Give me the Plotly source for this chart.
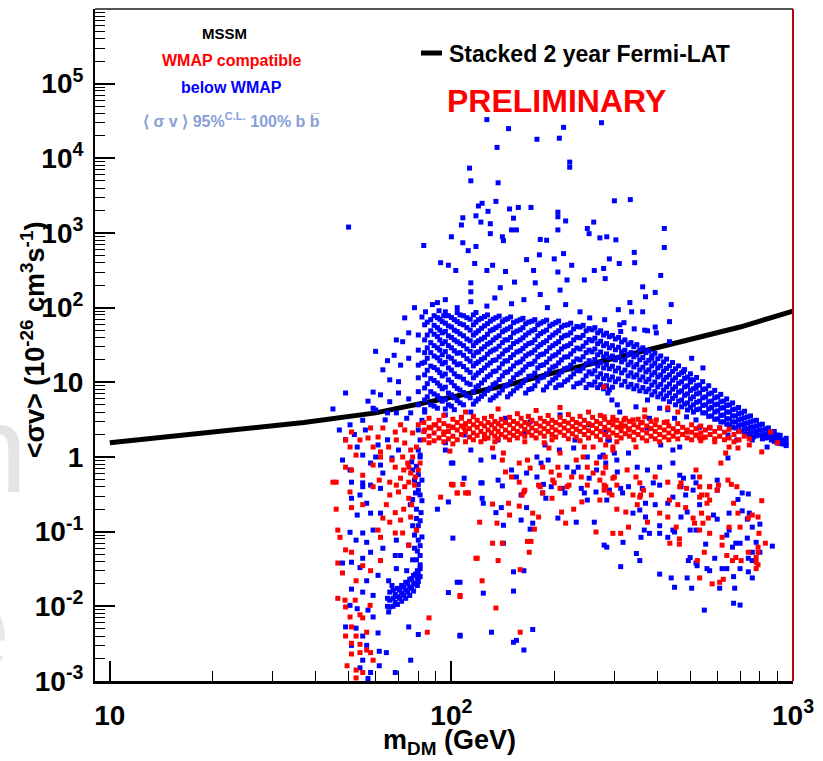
import plotly.graph_objects as go

# ---------------- data ----------------
fermi_m = [10, 37, 60, 81, 100, 150, 200, 300, 400, 500, 700, 1000]
fermi_sv = [1.55, 2.9, 3.9, 5.1, 6.3, 9.5, 13.5, 21, 29, 37, 55, 90]

blue_upper = [
    (127, 33000), (147, 25000), (213, 26000), (207, 18600), (275, 30000), (178, 18000), (136, 14000),
    (222, 8900), (222, 7600), (113, 7400), (114, 5000), (137, 4700), (300, 2700), (334, 2800),
    (123, 2500), (120, 2300), (135, 2650), (148, 2100), (157, 2200), (171, 2200), (108, 1600),
    (118, 1700), (128, 1950), (205, 1900), (205, 1650), (152, 1580), (216, 1450), (122, 1400),
    (130, 1330), (107, 1280), (150, 1100), (155, 1100), (205, 1100), (250, 1150), (261, 1400),
    (253, 980), (420, 1150), (100, 890), (130, 980), (141, 890), (142, 790), (285, 890), (303, 810),
    (272, 860), (182, 820), (190, 800), (83, 680), (108, 740), (118, 660), (112, 580), (420, 640),
    (213, 530), (181, 510), (343, 550), (93, 400), (98, 370), (117, 390), (132, 370), (166, 440),
    (200, 450), (225, 370), (290, 450), (310, 390), (344, 400), (103, 315), (127, 315), (144, 305),
    (174, 315), (205, 300), (262, 315), (279, 335), (410, 270), (114, 215), (153, 220), (176, 215),
    (218, 235), (245, 235), (282, 245), (363, 190), (395, 160), (370, 140), (440, 110), (333, 117),
    (308, 94), (337, 88), (363, 88), (435, 65), (313, 48), (343, 52), (375, 49), (398, 46),
    (50, 1200),
    (88, 110), (96, 128), (104, 100), (114, 120), (127, 105), (134, 135), (150, 113), (163, 128),
    (191, 100), (216, 110), (238, 88), (254, 73), (281, 69), (311, 59), (114, 163), (139, 185),
    (182, 150), (208, 172), (320, 63), (368, 50), (395, 55), (435, 35), (386, 21), (505, 21),
    (545, 15.6), (478, 14), (500, 10.8), (520, 8.4),
    (78, 100), (82, 75), (92, 91), (95, 78), (75, 46), (69, 37), (72, 35), (60, 26), (65, 19.5),
    (63, 14.7), (70, 10.2), (82, 18), (75, 21), (84, 88), (91, 117), (73, 73), (68, 23), (71, 17),
    (66, 10.8),
]

blue_band = [
    (80, 43), (80, 27), (80, 17), (80, 11.5), (80, 7.5), (80, 5),
    (83.5, 59), (83.5, 37), (83.5, 25), (83.5, 18.6), (83.5, 12.6), (83.5, 8.4), (83.5, 5.8), (83.5, 4.0),
    (87, 69), (87, 49), (87, 34), (87, 25), (87, 16.5), (87, 11.2), (87, 7.5), (87, 5.0),
    (91, 73.5), (91, 54), (91, 41), (91, 29), (91, 21.3), (91, 14.7), (91, 9.8), (91, 6.6), (91, 4.5),
    (94, 65), (94, 46), (94, 33), (94, 23.4), (94, 17.7), (94, 12.2), (94, 8.2), (94, 5.6),
    (98, 78), (98, 57), (98, 42), (98, 31), (98, 22), (98, 15.6), (98, 10.8), (98, 7.2), (98, 5.0),
    (102, 69), (102, 50), (102, 37), (102, 26.5), (102, 18.8), (102, 13), (102, 9), (102, 6.2), (102, 4.3),
    (106, 80), (106, 61), (106, 44.5), (106, 33), (106, 25), (106, 17.7), (106, 11.8), (106, 7.9), (106, 5.3),
    (111, 73.5), (111, 54), (111, 38), (111, 28), (111, 20.7), (111, 14.7), (111, 9.8), (111, 6.6),
    (116, 80), (116, 59), (116, 43), (116, 31), (116, 22.7), (116, 16.6), (116, 11.5), (116, 7.5), (116, 5.1),
    (120, 69), (120, 49), (120, 36), (120, 25.6), (120, 18.8), (120, 13.4), (120, 9), (120, 6),
    (125, 76), (125, 57), (125, 40), (125, 30), (125, 21.3), (125, 15.6), (125, 10.8), (125, 7),
    (130, 66), (130, 49), (130, 34), (130, 25.6), (130, 18.2), (130, 12.6), (130, 8.4), (130, 5.8),
    (135, 73.5), (135, 54), (135, 39.5), (135, 28), (135, 20), (135, 14.2), (135, 9.8), (135, 6.6),
    (141, 65), (141, 47.5), (141, 34), (141, 24), (141, 17.7), (141, 12.2), (141, 7.9),
    (146, 71), (146, 52), (146, 37), (146, 27.3), (146, 19.4), (146, 13.8), (146, 9.2), (146, 6.4),
    (152, 63), (152, 46), (152, 33), (152, 23.4), (152, 16.6), (152, 11.5), (152, 7.7),
    (159, 69), (159, 50.6), (159, 37), (159, 26.5), (159, 18.8), (159, 13.4), (159, 9),
    (165, 61), (165, 43), (165, 31), (165, 22.7), (165, 16.1), (165, 10.8), (165, 7.2),
    (172, 66), (172, 49), (172, 34), (172, 25), (172, 17.7), (172, 12.2), (172, 8.2),
    (179, 59), (179, 42), (179, 30), (179, 22), (179, 15.6), (179, 10.4),
    (186, 65), (186, 47.5), (186, 34), (186, 24), (186, 17.2), (186, 11.8), (186, 7.9),
    (194, 57), (194, 40), (194, 29), (194, 20.7), (194, 14.7), (194, 9.8),
    (202, 63), (202, 46), (202, 33), (202, 23.4), (202, 16.6), (202, 11.5), (202, 8.5),
    (210, 55), (210, 39.5), (210, 28), (210, 20), (210, 13.8), (210, 9.2),
    (219, 59), (219, 43), (219, 31), (219, 22), (219, 15.6), (219, 10.8),
    (228, 52), (228, 37), (228, 26.5), (228, 18.8), (228, 13), (228, 8.7),
    (238, 55), (238, 39.5), (238, 28), (238, 20), (238, 14.2), (238, 9.8),
    (248, 49), (248, 34), (248, 25), (248, 17.7), (248, 12.2), (248, 8.5),
    (258, 50.6), (258, 36), (258, 25.6), (258, 18.2), (258, 13), (258, 9.2),
    (268, 46), (268, 33), (268, 23.4), (268, 16.6), (268, 11.8), (268, 8.5),
    (279, 43), (279, 31), (279, 22), (279, 15.6), (279, 11.2), (279, 8.2),
    (290, 40.8), (290, 29), (290, 21.3), (290, 15.2), (290, 10.8), (290, 7.9),
    (302, 38), (302, 27.3), (302, 20), (302, 14.2), (302, 10.2),
    (315, 34.7), (315, 25.6), (315, 18.8), (315, 13.4), (315, 9.2),
    (329, 32), (329, 23.4), (329, 17.2), (329, 12.2), (329, 8.7),
    (342, 30), (342, 22), (342, 16.1), (342, 11.8), (342, 8.2),
    (356, 27.3), (356, 20), (356, 14.7), (356, 10.8), (356, 7.7),
    (371, 25), (371, 18.2), (371, 13.8), (371, 10.2), (371, 7.5),
    (386, 22.7), (386, 16.6), (386, 12.6), (386, 9.2), (386, 6.8),
    (402, 20.7), (402, 15.6), (402, 11.8), (402, 8.7), (402, 6.4),
    (418, 18.8), (418, 14.2), (418, 10.8), (418, 7.9), (418, 6.0),
    (435, 16.6), (435, 12.6), (435, 9.5), (435, 7.2), (435, 5.5),
    (453, 15.2), (453, 11.5), (453, 8.7), (453, 6.6), (453, 5.0),
    (472, 13.4), (472, 10.2), (472, 7.7), (472, 5.8), (472, 4.7),
    (491, 11.8), (491, 9.0), (491, 7.0), (491, 5.3), (491, 4.27),
    (511, 10.8), (511, 8.2), (511, 6.4), (511, 5.0), (511, 4.0),
    (533, 9.2), (533, 7.2), (533, 5.6), (533, 4.4),
    (555, 8.2), (555, 6.4), (555, 5.0), (555, 3.9),
    (578, 7.2), (578, 5.6), (578, 4.6), (578, 3.55),
    (602, 6.4), (602, 5.1), (602, 4.15), (602, 3.24),
    (627, 5.6), (627, 4.6), (627, 3.66), (627, 2.95),
    (652, 5.0), (652, 4.0), (652, 3.24), (652, 2.7),
    (679, 4.4), (679, 3.55), (679, 2.95), (679, 2.45),
    (707, 3.9), (707, 3.24), (707, 2.7), (707, 2.24),
    (736, 3.45), (736, 2.86), (736, 2.38), (736, 2.03),
    (766, 3.04), (766, 2.53), (766, 2.16), (766, 1.85),
    (797, 2.7), (797, 2.3), (797, 1.97),
    (830, 2.38), (830, 2.03), (830, 1.8),
    (864, 2.16), (864, 1.91), (864, 1.69),
    (899, 1.97), (899, 1.74), (899, 1.54),
    (936, 1.69), (936, 1.49),
]

blue_band_fill = [
    (85, 64), (85, 43), (85, 29), (85, 21), (85, 14.5), (85, 9.6), (85, 6.4),
    (89, 78), (89, 58), (89, 44), (89, 31), (89, 22.5), (89, 15.8), (89, 10.6), (89, 7.0), (89, 4.8),
    (92.5, 70), (92.5, 50), (92.5, 37), (92.5, 27), (92.5, 19.5), (92.5, 13.5), (92.5, 9.0), (92.5, 6.1),
    (96, 88), (96, 62), (96, 48), (96, 35), (96, 25.8), (96, 18.5), (96, 12.9), (96, 8.6), (96, 5.9), (96, 4.4),
    (100, 74), (100, 55), (100, 40), (100, 29), (100, 21), (100, 14.6), (100, 10.0), (100, 6.8), (100, 4.8),
    (104, 86), (104, 65), (104, 48), (104, 35), (104, 24.5), (104, 17.2), (104, 12.0), (104, 8.3), (104, 5.7),
    (108.5, 78), (108.5, 59), (108.5, 42), (108.5, 31), (108.5, 23), (108.5, 16.3), (108.5, 11.0), (108.5, 7.3), (108.5, 5.0),
    (113.5, 70), (113.5, 50), (113.5, 36), (113.5, 26), (113.5, 19.2), (113.5, 13.6), (113.5, 9.4), (113.5, 6.2),
    (118, 86), (118, 64), (118, 46), (118, 34), (118, 25), (118, 17.9), (118, 12.5), (118, 8.6), (118, 5.6),
    (122.5, 72), (122.5, 53), (122.5, 38), (122.5, 28), (122.5, 20.3), (122.5, 14.4), (122.5, 9.8), (122.5, 6.5),
    (127.5, 80), (127.5, 61), (127.5, 44), (127.5, 32.5), (127.5, 23.8), (127.5, 17), (127.5, 11.9), (127.5, 7.8),
    (132.5, 70), (132.5, 51), (132.5, 37), (132.5, 27), (132.5, 19.6), (132.5, 13.9), (132.5, 9.3), (132.5, 6.2),
    (138, 77), (138, 57), (138, 42), (138, 30.5), (138, 22), (138, 15.6), (138, 10.9), (138, 7.2),
    (143.5, 69), (143.5, 50), (143.5, 37), (143.5, 26.5), (143.5, 19.3), (143.5, 13.5), (143.5, 8.9),
    (149, 75), (149, 55), (149, 40), (149, 29.5), (149, 21.5), (149, 15), (149, 10.2), (149, 7.0),
    (155.5, 66), (155.5, 48.5), (155.5, 35), (155.5, 25.5), (155.5, 18.2), (155.5, 12.7), (155.5, 8.4),
    (162, 72), (162, 54), (162, 39.5), (162, 28.5), (162, 20.5), (162, 14.6), (162, 9.9),
    (168.5, 64), (168.5, 46), (168.5, 33), (168.5, 24), (168.5, 17.4), (168.5, 12), (168.5, 8.0),
    (175.5, 69), (175.5, 51), (175.5, 37), (175.5, 27), (175.5, 19.2), (175.5, 13.3), (175.5, 9.0),
    (182.5, 62), (182.5, 45), (182.5, 32), (182.5, 23.5), (182.5, 16.8), (182.5, 11.5),
    (190, 68), (190, 50), (190, 36), (190, 26), (190, 18.6), (190, 13), (190, 8.7),
    (198, 60), (198, 43), (198, 31), (198, 22.5), (198, 16), (198, 10.8),
    (206, 66), (206, 49), (206, 35), (206, 25.3), (206, 18.2), (206, 12.6), (206, 9.2),
    (214.5, 58), (214.5, 42), (214.5, 30), (214.5, 21.8), (214.5, 15.2), (214.5, 10.2),
    (223.5, 62), (223.5, 46), (223.5, 33), (223.5, 24), (223.5, 17), (223.5, 11.8),
    (233, 56), (233, 40), (233, 28.8), (233, 20.6), (233, 14.4), (233, 9.6),
    (243, 58), (243, 42.5), (243, 30.5), (243, 22), (243, 15.5), (243, 10.7),
    (253, 52.5), (253, 37.5), (253, 27), (253, 19.5), (253, 13.8), (253, 9.4),
    (263, 54), (263, 39), (263, 28), (263, 20.2), (263, 14.3), (263, 10.1),
    (273.5, 49), (273.5, 35.5), (273.5, 25.5), (273.5, 18.3), (273.5, 13.0), (273.5, 9.3),
    (284.5, 45.5), (284.5, 33), (284.5, 24), (284.5, 17.2), (284.5, 12.3), (284.5, 9.0),
    (296, 42.5), (296, 31), (296, 22.5), (296, 16.4), (296, 11.8), (296, 8.6),
    (308.5, 40), (308.5, 29.5), (308.5, 21.5), (308.5, 15.5), (308.5, 11.1),
    (322, 37), (322, 27), (322, 20.3), (322, 14.6), (322, 10.3),
    (335.5, 34), (335.5, 25), (335.5, 18.6), (335.5, 13.4), (335.5, 9.4),
    (349, 32), (349, 23.3), (349, 17.3), (349, 12.6), (349, 9.0),
    (363.5, 29), (363.5, 21.5), (363.5, 15.9), (363.5, 11.8), (363.5, 8.5),
    (378.5, 26.5), (378.5, 19.7), (378.5, 14.7), (378.5, 11.0), (378.5, 8.1),
    (394, 24.5), (394, 18.0), (394, 13.6), (394, 10.1), (394, 7.5),
    (410, 22.5), (410, 16.7), (410, 12.6), (410, 9.4), (410, 7.0),
    (426.5, 20.5), (426.5, 15.4), (426.5, 11.7), (426.5, 8.7), (426.5, 6.6),
    (444, 18.4), (444, 14), (444, 10.7), (444, 8.1), (444, 6.1),
    (462.5, 16.6), (462.5, 12.7), (462.5, 9.7), (462.5, 7.4), (462.5, 5.6),
    (481.5, 14.8), (481.5, 11.3), (481.5, 8.7), (481.5, 6.7), (481.5, 5.1),
    (501, 13), (501, 10.1), (501, 7.8), (501, 6.0), (501, 4.6),
    (522, 11.6), (522, 9.0), (522, 7.0), (522, 5.4), (522, 4.3),
    (544, 10.2), (544, 8.0), (544, 6.2), (544, 4.9), (544, 3.9),
    (566.5, 9.0), (566.5, 7.0), (566.5, 5.5), (566.5, 4.4), (566.5, 3.5),
    (590, 7.8), (590, 6.2), (590, 5.0), (590, 4.0), (590, 3.2),
    (614.5, 6.9), (614.5, 5.5), (614.5, 4.5), (614.5, 3.6), (614.5, 2.95),
    (639.5, 6.0), (639.5, 4.9), (639.5, 4.0), (639.5, 3.25), (639.5, 2.75),
    (665.5, 5.3), (665.5, 4.3), (665.5, 3.55), (665.5, 2.95), (665.5, 2.5),
    (693, 4.6), (693, 3.8), (693, 3.15), (693, 2.65), (693, 2.25),
    (721.5, 4.1), (721.5, 3.35), (721.5, 2.8), (721.5, 2.4), (721.5, 2.05),
    (751, 3.55), (751, 2.95), (751, 2.5), (751, 2.15), (751, 1.9),
    (781.5, 3.1), (781.5, 2.6), (781.5, 2.2), (781.5, 1.92),
    (813.5, 2.75), (813.5, 2.3), (813.5, 1.98), (813.5, 1.75),
    (847, 2.45), (847, 2.08), (847, 1.82),
    (881.5, 2.2), (881.5, 1.88), (881.5, 1.62),
    (917, 1.95), (917, 1.7), (917, 1.52),
    (955, 1.78), (955, 1.56), (955, 1.42),
]

blue_left = [
    (49, 7.2), (59, 7.4), (45, 4.4), (57, 5.6), (66, 5.5), (70, 7.2), (75, 6.0), (59, 4.5), (65, 3.9),
    (69, 3.9), (74, 3.3), (76, 3.9), (62, 6.8), (50.5, 2.7), (55, 3.1), (47, 2.3), (64, 3.14), (60, 4.27),
    (52, 2.0), (55, 1.06), (58, 0.83), (60, 1.0), (48, 0.91), (63, 0.61), (51, 0.46), (55, 0.45),
    (67, 0.97), (81, 1.06), (49, 1.7), (53, 1.36), (61, 1.45), (56, 2.3), (50.5, 0.67), (62, 0.78),
    (65, 1.7), (70, 1.24),
    (77, 0.67), (78, 0.49), (80, 0.36), (77, 0.27), (79, 0.2), (81, 0.14), (79, 0.105), (80, 0.077),
    (78, 0.06), (81, 0.048), (79, 0.042), (76.5, 0.86), (80, 1.24), (81, 1.69), (80, 2.3), (82, 3.1),
    (83.5, 4.3), (75.8, 0.23), (77, 0.12), (82, 0.26), (82, 0.49), (81, 0.31), (79, 0.15), (80, 0.58),
    (78, 0.09), (81, 0.065), (79, 0.75), (81, 1.0), (80, 0.43), (78.5, 0.33), (81.5, 0.18), (80, 0.12),
    (82, 0.085), (79.5, 0.055), (81, 0.036),
    (55, 0.4), (58, 0.42), (62, 0.38), (51, 0.28), (54, 0.31), (56.5, 0.24), (53, 0.167), (58, 0.177),
    (62, 0.177), (50.5, 0.098), (55, 0.096), (59, 0.105), (52.6, 0.077), (56.5, 0.072), (58, 0.053),
    (55, 0.044), (51, 0.039), (48, 0.038), (54, 0.033), (61, 0.026), (56.5, 0.022), (51, 0.017),
    (55, 0.0155), (59, 0.014), (50.5, 0.0103), (53, 0.0093), (57, 0.0089), (59, 0.0072), (49, 0.0053),
    (52.6, 0.0051), (61, 0.0044), (55, 0.004), (51, 0.003), (56.5, 0.003), (61.5, 0.0025), (55, 0.0019),
    (61.5, 0.0016), (54, 0.0015), (58, 0.0013), (57, 0.00108), (64.5, 0.0024), (76, 0.0019),
    (68.5, 0.0013), (75, 0.0053), (80, 0.0042),
    (69, 0.032), (71, 0.048), (74, 0.03), (65.5, 0.022), (67, 0.019), (63, 0.06), (68.5, 0.048),
    (75, 0.066), (77, 0.042), (69, 0.077),
    (91, 0.2), (98, 0.25), (101, 0.082), (104, 0.021), (98, 0.0153), (106, 0.0041),
    (100, 0.83), (109, 0.52), (96, 1.24),
]

blue_wedge = [
    (66, 0.0155), (66, 0.0121), (66, 0.0098), (67.5, 0.0165), (67.5, 0.0128), (67.5, 0.010),
    (69.5, 0.0174), (69.5, 0.0135), (69.5, 0.0106), (71.5, 0.019), (71.5, 0.015), (71.5, 0.0117),
    (73.5, 0.021), (73.5, 0.0165), (73.5, 0.0128), (75.5, 0.023), (75.5, 0.018), (75.5, 0.014),
    (77.5, 0.026), (77.5, 0.020), (77.5, 0.016), (79.5, 0.030), (79.5, 0.024), (79.5, 0.019),
    (81, 0.032), (81, 0.025), (65, 0.0128), (65, 0.010), (65.5, 0.0084), (68.5, 0.0145),
    (68.5, 0.0113), (70.5, 0.0165), (70.5, 0.0128), (72.5, 0.018), (72.5, 0.014), (74.5, 0.020),
    (74.5, 0.0155), (76.5, 0.0235), (76.5, 0.0175), (78.5, 0.027), (78.5, 0.0205), (80, 0.028),
    (80, 0.0215),
]

blue_low = [
    (122, 0.45), (141, 0.41), (160, 0.31), (123, 0.28), (124, 0.24), (135, 0.18), (140, 0.21),
    (166, 0.21), (160, 0.143), (173, 0.13), (142, 0.122), (170, 0.108), (142, 0.07), (152, 0.029),
    (163, 0.03), (152, 0.016), (124, 0.015), (106, 0.021), (106, 0.004), (131, 0.0045), (152, 0.0033),
    (155, 0.0035), (163, 0.0026), (173, 0.0049), (186, 0.43), (189, 0.28), (205, 0.152), (232, 0.134),
    (215, 0.33), (262, 0.134), (280, 0.066), (285, 0.062), (313, 0.034), (318, 0.072), (348, 0.051),
    (356, 0.041), (359, 0.084), (367, 0.105), (407, 0.027), (440, 0.024), (450, 0.018), (505, 0.0175),
    (550, 0.0089), (490, 0.024), (494, 0.041), (524, 0.035), (560, 0.032), (570, 0.03), (610, 0.0175),
    (620, 0.032), (640, 0.032), (670, 0.025), (675, 0.0175), (670, 0.011), (700, 0.0104), (760, 0.024),
    (740, 0.029), (700, 0.032), (760, 0.041), (735, 0.082), (780, 0.072), (870, 0.064), (800, 0.126),
    (735, 0.147), (760, 0.115), (710, 0.19), (745, 0.177), (740, 0.32), (690, 0.27), (650, 0.177),
    (600, 0.147), (585, 0.167), (555, 0.068), (520, 0.038), (520, 0.105), (500, 0.105), (490, 0.183),
    (470, 0.157), (445, 0.105), (430, 0.084), (407, 0.095), (380, 0.095), (356, 0.195), (370, 0.24),
    (395, 0.23), (430, 0.24), (445, 0.29), (485, 0.31), (510, 0.36), (533, 0.23), (470, 0.4),
    (407, 0.42), (362, 0.38), (330, 0.4), (317, 0.33), (290, 0.34), (265, 0.34), (250, 0.265),
    (240, 0.38), (285, 0.265), (340, 0.177), (370, 0.157), (407, 0.12), (450, 0.099), (500, 0.045),
    (590, 0.044), (665, 0.062), (700, 0.07), (640, 0.09), (650, 0.105), (680, 0.07), (740, 0.044),
    (800, 0.053), (760, 0.053),
    (96, 1.55), (101, 0.83), (114, 1.24), (122, 0.91), (123, 0.45), (137, 0.49), (133, 1.0),
    (150, 0.67), (155, 0.54), (166, 0.61), (178, 0.54), (183, 0.83), (178, 1.0), (192, 0.91),
    (196, 0.4), (185, 0.33), (211, 0.38), (207, 1.24), (218, 0.73), (228, 0.63), (235, 0.73),
    (245, 0.33), (253, 0.52), (266, 0.67), (283, 0.83), (305, 0.91), (272, 1.0), (228, 1.32), (250, 1.0),
    (287, 7.2), (295, 5.8), (306, 5.0), (347, 4.7), (375, 5.8), (407, 4.5), (430, 4.3), (450, 3.3),
    (488, 3.45), (520, 3.14), (570, 2.45), (610, 2.45), (645, 1.97), (685, 1.69), (760, 1.69),
    (840, 1.36), (870, 1.97), (375, 2.45), (410, 1.45), (445, 1.24), (466, 1.36), (533, 2.5),
    (283, 2.16), (287, 1.69), (278, 1.06), (300, 1.13), (306, 0.63), (330, 1.13), (350, 0.73),
    (375, 0.67), (407, 0.73), (445, 0.83), (466, 0.57), (478, 0.52), (510, 0.54), (520, 0.45),
    (600, 0.49), (600, 0.36), (710, 0.33), (645, 0.97), (313, 0.38), (290, 0.36), (390, 0.45),
    (96, 3.66), (114, 4.0), (144, 3.3), (170, 2.95), (208, 3.66), (254, 2.7), (311, 4.0), (380, 3.3),
    (230, 1.69), (188, 1.45), (137, 1.69), (109, 1.97), (164, 2.16), (290, 1.69),
]

red_band = [
    (83, 2.9), (83, 2.2), (83, 1.7), (86, 3.3), (86, 2.5), (86, 1.9), (86, 1.55), (89, 2.7), (89, 2.1),
    (89, 1.65), (92, 3.1), (92, 2.4), (92, 1.8), (95, 2.8), (95, 2.0), (95, 1.6), (95, 3.6), (98, 2.6),
    (98, 2.2), (98, 1.75), (101, 3.2), (101, 2.5), (101, 1.9), (101, 1.5), (104, 2.9), (104, 2.3),
    (104, 1.7), (107, 3.4), (107, 2.6), (107, 2.0), (110, 2.8), (110, 2.2), (110, 1.6), (110, 4.0),
    (113, 3.0), (113, 2.4), (113, 1.85), (116, 2.7), (116, 2.1), (116, 1.7), (116, 3.5), (119, 3.1),
    (119, 2.5), (119, 1.95), (122, 2.8), (122, 2.2), (122, 1.6), (125, 3.3), (125, 2.6), (125, 2.0),
    (125, 1.75), (128, 2.9), (128, 2.3), (128, 1.8), (131, 3.5), (131, 2.7), (131, 2.1), (134, 3.0),
    (134, 2.4), (134, 1.9), (134, 1.6), (137, 2.8), (137, 2.2), (137, 1.75), (137, 4.4), (140, 3.2),
    (140, 2.6), (140, 2.0), (144, 2.9), (144, 2.3), (144, 1.85), (148, 3.4), (148, 2.7), (148, 2.1),
    (148, 1.7), (152, 3.0), (152, 2.4), (152, 1.95), (156, 2.8), (156, 2.2), (156, 1.8), (156, 3.8),
    (160, 3.3), (160, 2.6), (160, 2.05), (164, 2.9), (164, 2.35), (164, 1.9), (164, 1.6), (168, 3.5),
    (168, 2.75), (168, 2.15), (172, 3.1), (172, 2.45), (172, 1.95), (177, 2.8), (177, 2.25), (177, 1.8),
    (177, 4.2), (182, 3.3), (182, 2.6), (182, 2.1), (187, 3.0), (187, 2.4), (187, 1.9), (187, 1.55),
    (192, 3.6), (192, 2.8), (192, 2.2), (197, 3.1), (197, 2.5), (197, 2.0), (197, 1.7), (202, 2.9),
    (202, 2.3), (202, 1.85), (208, 3.4), (208, 2.7), (208, 2.15), (208, 4.6), (214, 3.0), (214, 2.45),
    (214, 1.95), (220, 3.7), (220, 2.85), (220, 2.25), (220, 1.75), (226, 3.2), (226, 2.55), (226, 2.05),
    (232, 2.9), (232, 2.35), (232, 1.85), (238, 3.5), (238, 2.75), (238, 2.2), (238, 1.65), (245, 3.1),
    (245, 2.5), (245, 2.0), (252, 2.8), (252, 2.25), (252, 1.8), (252, 4.0), (259, 3.4), (259, 2.65),
    (259, 2.1), (266, 3.0), (266, 2.4), (266, 1.9), (273, 3.6), (273, 2.8), (273, 2.2), (273, 1.7),
    (281, 3.2), (281, 2.5), (281, 2.0), (289, 2.9), (289, 2.3), (289, 1.85), (297, 3.4), (297, 2.7),
    (297, 2.1), (305, 3.1), (305, 2.5), (305, 1.95), (305, 1.6), (314, 2.8), (314, 2.25), (314, 1.8),
    (323, 3.3), (323, 2.6), (323, 2.05), (332, 3.0), (332, 2.4), (332, 1.9), (342, 2.7), (342, 2.15),
    (342, 1.7), (352, 3.2), (352, 2.5), (352, 2.0), (362, 2.9), (362, 2.3), (362, 1.8), (373, 2.6),
    (373, 2.1), (373, 1.65), (384, 3.0), (384, 2.4), (384, 1.9), (395, 2.7), (395, 2.2), (395, 1.75),
    (407, 2.5), (407, 2.0), (407, 1.6), (420, 2.9), (420, 2.3), (420, 1.85), (433, 2.6), (433, 2.1),
    (433, 1.7), (446, 2.4), (446, 1.9), (460, 2.8), (460, 2.2), (460, 1.75), (475, 2.5), (475, 2.0),
    (490, 2.3), (490, 1.8), (505, 2.7), (505, 2.15), (505, 1.7), (520, 2.4), (520, 1.95), (537, 2.6),
    (537, 2.1), (537, 1.65), (554, 2.3), (554, 1.85), (572, 2.5), (572, 2.0), (590, 2.2), (590, 1.75),
    (610, 2.45), (610, 1.9), (630, 2.15), (630, 1.7), (650, 2.35), (650, 1.8), (672, 2.0), (672, 1.6),
    (695, 2.2), (695, 1.7), (720, 1.9), (745, 1.75), (745, 1.45),
    (280, 3.45), (297, 3.14), (320, 3.14), (340, 3.14), (358, 2.86), (368, 3.45), (398, 3.14),
    (428, 2.96), (313, 2.53), (330, 2.3), (368, 4.27), (430, 4.55), (460, 4.0), (455, 2.16), (488, 2.16),
    (520, 1.97), (545, 1.8), (590, 1.6), (650, 1.36), (690, 1.32), (533, 1.8), (860, 2.16), (900, 1.55),
    (810, 1.17), (283, 1.45), (297, 1.36), (347, 1.36), (280, 8.7),
]

red_left = [
    (49, 1.69), (51, 2.16), (54, 1.69), (58, 2.45), (61, 1.85), (63, 2.45), (68.5, 2.16), (71, 2.7),
    (73, 2.3), (77, 2.1), (80, 2.7), (83.5, 2.3), (87, 2.45), (90, 2.7), (95, 2.16), (101, 2.5),
    (109, 2.45), (116, 3.45), (107, 3.3), (59, 1.36), (62, 1.17), (65.5, 1.36), (69, 1.69), (73, 1.54),
    (76, 1.24), (79, 1.36), (72, 1.0), (74.5, 0.83), (77, 1.0), (72.5, 0.67), (76, 0.61), (80, 0.67),
    (71, 0.52), (75, 0.46), (78.5, 0.54), (81, 0.83), (68.5, 0.73), (67, 0.91), (59, 0.78), (62, 1.0),
    (52.6, 1.06), (50.5, 1.36), (57, 1.8), (49, 0.73), (51, 0.67), (45, 0.46), (55, 0.57), (61.5, 0.49),
    (59, 0.4), (66, 0.46), (69, 0.42), (73, 0.4), (75, 0.73), (101, 0.42),
    (46, 0.46), (50.5, 0.34), (46, 0.2), (51, 0.21), (55, 0.23), (66, 0.31), (70, 0.34), (75, 0.28),
    (78, 0.42), (64.5, 0.23), (68.5, 0.18), (72.5, 0.2), (76.5, 0.23), (63, 0.152), (66, 0.134),
    (71, 0.143), (76, 0.157), (79, 0.105), (68.5, 0.096), (72, 0.096), (75, 0.066), (62, 0.084),
    (61, 0.105), (46.5, 0.105), (47.2, 0.084), (49, 0.057), (51, 0.053), (46.5, 0.038), (48, 0.028),
    (55, 0.035), (58, 0.03), (62, 0.041), (52.6, 0.022), (46.5, 0.0128), (48.8, 0.0121), (50.5, 0.0072),
    (49, 0.0098), (52.3, 0.0121), (54, 0.0077), (57.8, 0.0103), (55, 0.007), (51, 0.0053), (49, 0.004),
    (52.6, 0.004), (56.5, 0.0045), (51, 0.0032), (54, 0.0031), (56.5, 0.0026), (51, 0.0023), (54, 0.0024),
    (49.5, 0.0016), (52.6, 0.0014), (55, 0.0013), (52.6, 0.0011), (58, 0.0024), (59, 0.0019),
    (108, 0.43), (104, 0.33), (112, 0.33), (93, 0.29), (100, 0.43), (119, 0.044), (106, 0.0135),
    (85, 0.0045), (86, 0.007),
]

red_low = [
    (112, 0.33), (106, 0.014), (132, 0.234), (147, 0.24), (136, 0.13), (148, 0.167), (158, 0.22),
    (173, 0.177), (180, 0.157), (121, 0.134), (132, 0.07), (141, 0.07), (167, 0.074), (171, 0.074),
    (175, 0.108), (169, 0.053), (118, 0.044), (137, 0.041), (159, 0.031), (123, 0.022), (135, 0.0095),
    (159, 0.0045), (163, 0.34), (185, 0.33), (197, 0.28), (210, 0.183), (216, 0.13), (228, 0.2),
    (241, 0.25), (265, 0.099), (297, 0.095), (313, 0.095), (272, 0.265), (305, 0.2), (324, 0.183),
    (350, 0.23), (358, 0.31), (385, 0.31), (407, 0.177), (430, 0.157), (436, 0.07), (455, 0.115),
    (465, 0.08), (465, 0.068), (515, 0.13), (525, 0.041), (533, 0.024), (580, 0.02), (610, 0.021),
    (625, 0.023), (550, 0.053), (533, 0.105), (540, 0.177), (560, 0.24), (533, 0.29), (565, 0.152),
    (570, 0.095), (545, 0.13), (620, 0.084), (620, 0.066), (640, 0.048), (665, 0.041), (705, 0.041),
    (780, 0.039), (780, 0.045), (790, 0.036), (740, 0.053), (790, 0.053), (780, 0.032), (680, 0.045),
    (700, 0.115), (650, 0.115), (740, 0.152), (790, 0.157), (795, 0.095), (790, 0.062), (830, 0.07),
    (810, 0.26), (760, 0.167), (690, 0.177), (670, 0.24), (660, 0.43), (605, 0.42), (600, 0.36),
    (570, 0.265), (560, 0.31), (510, 0.152), (485, 0.21), (460, 0.23), (435, 0.265), (356, 0.29),
    (340, 0.31), (305, 0.42), (280, 0.42), (295, 0.31), (330, 0.115), (375, 0.134), (533, 0.4),
    (570, 0.4), (180, 0.42), (200, 0.45), (208, 0.38), (218, 0.4), (250, 0.42),
    (99, 1.2), (101, 0.43), (104, 0.33), (110, 0.33), (132, 1.32), (142, 1.13), (141, 0.91), (144, 0.63),
    (150, 0.54), (158, 0.83), (167, 0.91), (158, 0.46), (164, 0.36), (161, 0.31), (182, 0.4), (170, 0.71),
    (185, 0.73), (205, 0.73), (196, 0.63), (207, 0.57), (198, 0.49), (225, 0.54), (221, 0.42),
    (240, 0.54), (250, 0.73), (260, 0.61), (272, 0.49), (283, 0.4), (290, 0.33), (280, 0.36),
    (297, 0.52), (297, 1.24), (282, 1.0), (245, 1.36), (260, 1.36), (208, 1.13), (193, 1.32),
    (243, 1.0), (232, 0.91), (266, 0.83),
    (283, 0.73), (278, 0.61), (300, 0.54), (327, 0.67), (347, 0.54), (356, 0.45), (395, 0.54),
    (430, 0.46), (470, 0.45), (488, 0.38), (520, 0.67), (533, 0.54), (570, 0.4), (615, 0.83),
    (635, 1.13), (645, 0.49), (540, 0.31), (466, 0.4), (365, 0.36), (685, 0.4),
]

# -------------- figure --------------
def unzip(groups):
    xs, ys = [], []
    for g in groups:
        for m, s in g:
            xs.append(m)
            ys.append(s)
    return xs, ys

bx, by = unzip([blue_upper, blue_band, blue_band_fill, blue_left, blue_wedge, blue_low])
rx, ry = unzip([red_band, red_left, red_low])

FONT = "Liberation Sans"
fig = go.Figure()
fig.add_trace(go.Scatter(x=fermi_m, y=fermi_sv, mode="lines",
                         line=dict(color="black", width=5), hoverinfo="skip"))
fig.add_trace(go.Scatter(x=bx, y=by, mode="markers",
                         marker=dict(symbol="square", size=5, color="#0000ff", line=dict(width=0))))
fig.add_trace(go.Scatter(x=rx, y=ry, mode="markers",
                         marker=dict(symbol="square", size=5, color="#ff0000", line=dict(width=0))))

xminor = [v * 10 ** k for k in (1, 2) for v in range(2, 10)]
yminor = [v * 10.0 ** k for k in range(-3, 6) for v in range(2, 10)]
ymaj = [10.0 ** k for k in range(-3, 6)]
ytext = ["<b>10<sup>-3</sup></b>", "<b>10<sup>-2</sup></b>", "<b>10<sup>-1</sup></b>", "<b>1</b>",
         "<b>10</b>", "<b>10<sup>2</sup></b>", "<b>10<sup>3</sup></b>", "<b>10<sup>4</sup></b>",
         "<b>10<sup>5</sup></b>"]

fig.update_layout(
    width=823, height=761,
    margin=dict(l=95, r=30, t=9, b=80),
    plot_bgcolor="white", paper_bgcolor="white",
    showlegend=False,
    font=dict(family=FONT, color="black"),
)
fig.update_xaxes(
    type="log", range=[0.9567, 3.0],
    tickmode="array", tickvals=[10, 100, 1000],
    ticktext=["<b>10</b>", "<b>10<sup>2</sup></b>", "<b>10<sup>3</sup></b>"],
    ticks="inside", ticklen=20, tickwidth=1.5, tickcolor="black",
    minor=dict(tickmode="array", tickvals=xminor, ticks="inside", ticklen=10,
               tickwidth=1, tickcolor="black", showgrid=False),
    showline=True, linecolor="black", linewidth=3,
    showgrid=False, zeroline=False,
    tickfont=dict(family=FONT, size=28, color="black"),
    ticklabelstandoff=7,
)
fig.update_yaxes(
    type="log", range=[-3, 6.0],
    tickmode="array", tickvals=ymaj, ticktext=ytext,
    ticks="inside", ticklen=20, tickwidth=1.5, tickcolor="black",
    minor=dict(tickmode="array", tickvals=yminor, ticks="inside", ticklen=10,
               tickwidth=1, tickcolor="black", showgrid=False),
    showline=True, linecolor="black", linewidth=2,
    showgrid=False, zeroline=False,
    tickfont=dict(family=FONT, size=28, color="black"),
    ticklabelstandoff=4,
)

# frame: top and right
fig.add_shape(type="line", xref="paper", yref="paper", x0=0, x1=1, y0=1, y1=1,
              line=dict(color="#555555", width=2))
fig.add_shape(type="line", xref="paper", yref="paper", x0=1, x1=1, y0=0, y1=1,
              line=dict(color="#c00000", width=2))
# legend line for Fermi
fig.add_shape(type="line", xref="paper", yref="paper", x0=0.4670, x1=0.4971, y0=0.9345, y1=0.9345,
              line=dict(color="black", width=5))

ann = [
    dict(text="<b>MSSM</b>", x=0.186, y=0.963, font=dict(size=15, color="black"), xanchor="center"),
    dict(text="<b>WMAP compatible</b>", x=0.196, y=0.924, font=dict(size=16, color="#ff0000"), xanchor="center"),
    dict(text="<b>below WMAP</b>", x=0.196, y=0.8825, font=dict(size=16, color="#0000ff"), xanchor="center"),
    dict(text="<b>\u27e8 σ v \u27e9 95%<sup>C.L.</sup> 100% b b\u0305</b>", x=0.196, y=0.835,
         font=dict(size=16, color="rgb(135,160,215)"), xanchor="center"),
    dict(text="<b>Stacked 2 year Fermi-LAT</b>", x=0.5043, y=0.933, font=dict(size=23, color="black"),
         xanchor="left"),
    dict(text="<b>PRELIMINARY</b>", x=0.5020, y=0.863, font=dict(size=32, color="#ff0000"), xanchor="left"),
    dict(text="<b>&lt;σv&gt; (10<sup>-26</sup> cm<sup>3</sup>s<sup>-1</sup>)</b>", x=-0.0888, y=0.507,
         textangle=-90, font=dict(size=27, color="black"), xanchor="center"),
    dict(text="<b>m<sub>DM</sub> (GeV)</b>", x=0.508, y=-0.091, font=dict(size=27, color="black"),
         xanchor="center"),
    # faint background watermark letters at the left edge
    dict(text="n", x=-0.146, y=0.346, font=dict(size=125, color="#e4e4e4"), xanchor="center"),
    dict(text="e", x=-0.1705, y=0.080, font=dict(size=125, color="#e8e8e8"), xanchor="center"),
]
for a in ann:
    a.update(xref="paper", yref="paper", showarrow=False, yanchor="middle")
    a["font"]["family"] = FONT
    fig.add_annotation(**a)

fig.write_html("out.html", config={"displayModeBar": False},
               post_script="document.body.style.margin='0px';")
